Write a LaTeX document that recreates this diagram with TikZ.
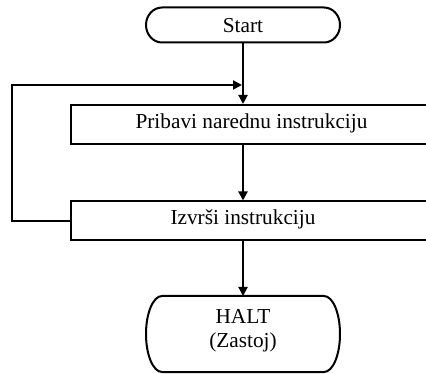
\documentclass[tikz,border=0pt]{standalone}
\usepackage{fontspec}
\setmainfont{Liberation Serif}
\usetikzlibrary{arrows.meta}
\tikzset{
  flowline/.style={line width=2pt, draw=black},
  arr/.style={flowline, -{Triangle[length=9pt,width=9pt]}},
  procbox/.style={draw=black, line width=2pt, inner sep=0pt, anchor=north west},
  lbl/.style={font=\fontsize{21.3}{24}\selectfont, inner sep=0pt},
}
\begin{document}
\begin{tikzpicture}[x=1pt,y=-1pt]
\clip (0,0) rectangle (426,374);
\useasboundingbox (0,0) rectangle (426,374);
% Start terminator
\draw[flowline] (162,7.5) -- (324,7.5) arc[start angle=90,end angle=-90,x radius=16pt,y radius=17.5pt]
  -- (162,42.5) arc[start angle=270,end angle=90,x radius=16pt,y radius=17.5pt] -- cycle;
\node[lbl, anchor=base] (start) at (243,32.5) {Start};
\coordinate (startb) at (243,42.5);
% process boxes
\node[procbox, minimum width=370pt, minimum height=39pt] (fetch) at (70,104) {};
\node[lbl, anchor=base] (fetcht) at (251.5,128.5) {Pribavi narednu instrukciju};
\node[procbox, minimum width=370pt, minimum height=39pt] (exec) at (70,200.5) {};
\node[lbl, anchor=base] (exect) at (243,224.5) {Izvrši instrukciju};
% HALT terminator
\draw[flowline] (162,296) -- (324,296) arc[start angle=90,end angle=-90,x radius=16pt,y radius=38pt]
  -- (162,372) arc[start angle=270,end angle=90,x radius=16pt,y radius=38pt] -- cycle;
\node[lbl, align=center, anchor=base] (halt) at (243,347.3) {HALT\\(Zastoj)};
\coordinate (haltt) at (243,296);
% connectors
\coordinate (loopL) at (12,85);
\coordinate (merge) at (242,85);
\draw[arr] (startb) -- (fetch.north -| startb);
\draw[arr] (fetch.south -| startb) -- (exec.north -| startb);
\draw[arr] (exec.south -| startb) -- (haltt);
\draw[arr] (exec.west) -| (loopL) -- (merge);
\end{tikzpicture}
\end{document}
